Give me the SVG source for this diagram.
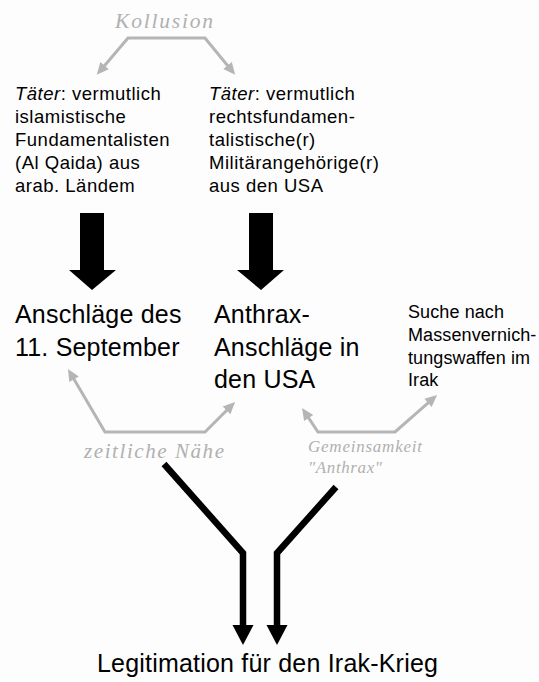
<svg xmlns="http://www.w3.org/2000/svg" width="539" height="682" viewBox="0 0 539 682">
<style>
.t{font-family:"Liberation Sans",Arial,sans-serif;fill:#000}
.s{font-size:18.5px;letter-spacing:0.5px}
.r{font-size:18px;letter-spacing:0.1px}
.b{font-size:25px;letter-spacing:0.2px}
.g{font-family:"Liberation Serif","Times New Roman",serif;font-style:italic;fill:#b0b0b0}
.i{font-style:italic}
.gl{fill:none;stroke:#b5b5b5;stroke-width:3;stroke-linejoin:miter}
.bl{fill:none;stroke:#000;stroke-width:6.5;stroke-linejoin:miter}
</style>
<defs>
<marker id="ga" markerUnits="userSpaceOnUse" markerWidth="14" markerHeight="12" refX="7" refY="0" orient="auto-start-reverse" overflow="visible">
<path d="M0,-5.5 L12,0 L0,5.5 z" fill="#b5b5b5"/>
</marker>
<marker id="ba" markerUnits="userSpaceOnUse" markerWidth="22" markerHeight="22" refX="0" refY="0" orient="auto" overflow="visible">
<path d="M0,-10.5 L20,0 L0,10.5 z" fill="#000"/>
</marker>
</defs>
<rect width="539" height="682" fill="#fdfdfd"/>

<g id="kollusion">
<text class="g" x="115" y="28" font-size="21.5" textLength="98" lengthAdjust="spacing">Kollusion</text>
</g>

<g id="taeter-islam">
<text class="t s" x="15" y="100"><tspan class="i">Täter</tspan>: vermutlich</text>
<text class="t s" x="15" y="123">islamistische</text>
<text class="t s" x="15" y="146">Fundamentalisten</text>
<text class="t s" x="15" y="169">(Al Qaida) aus</text>
<text class="t s" x="15" y="192">arab. Ländem</text>
</g>

<g id="taeter-usa">
<text class="t s" x="209" y="100"><tspan class="i">Täter</tspan>: vermutlich</text>
<text class="t s" x="209" y="123">rechtsfundamen-</text>
<text class="t s" x="209" y="146">talistische(r)</text>
<text class="t s" x="209" y="169">Militärangehörige(r)</text>
<text class="t s" x="209" y="192">aus den USA</text>
</g>

<g id="sept11">
<text class="t b" x="15" y="323">Anschläge des</text>
<text class="t b" x="15" y="356">11. September</text>
</g>

<g id="anthrax">
<text class="t b" x="214" y="323">Anthrax-</text>
<text class="t b" x="214" y="356">Anschläge in</text>
<text class="t b" x="214" y="388">den USA</text>
</g>

<g id="suche">
<text class="t r" x="408" y="318">Suche nach</text>
<text class="t r" x="408" y="341">Massenvernich-</text>
<text class="t r" x="408" y="364">tungswaffen im</text>
<text class="t r" x="408" y="386">Irak</text>
</g>

<g id="legitimation">
<text class="t b" x="97" y="672" letter-spacing="0.3">Legitimation für den Irak-Krieg</text>
</g>

<g id="connectors">
<path class="gl" d="M100,71 L128,38 L205,38 L232,71" marker-start="url(#ga)" marker-end="url(#ga)"/>
<path d="M80,213 H104 V270 H116 L92,290 L69,270 H80 z" fill="#000"/>
<path d="M249,213 H273 V270 H284 L261,290 L237,270 H249 z" fill="#000"/>
<path class="gl" d="M70.5,373.3 L105,432 L205,432 L231.5,405.5" marker-start="url(#ga)" marker-end="url(#ga)"/>
<text class="g" x="84" y="458" font-size="21" textLength="140" lengthAdjust="spacing">zeitliche Nähe</text>
<path class="gl" d="M304.8,412.2 L318,432 L395,432 L433.3,398.3" marker-start="url(#ga)" marker-end="url(#ga)"/>
<text class="g" x="308" y="452" font-size="17" textLength="114" lengthAdjust="spacing">Gemeinsamkeit</text>
<text class="g" x="308" y="473" font-size="17" textLength="74" lengthAdjust="spacing">"Anthrax"</text>
<path class="bl" d="M164,464 L243,553 L243,625" marker-end="url(#ba)"/>
<path class="bl" d="M336,487 L277,553 L277,625" marker-end="url(#ba)"/>
</g>
</svg>
